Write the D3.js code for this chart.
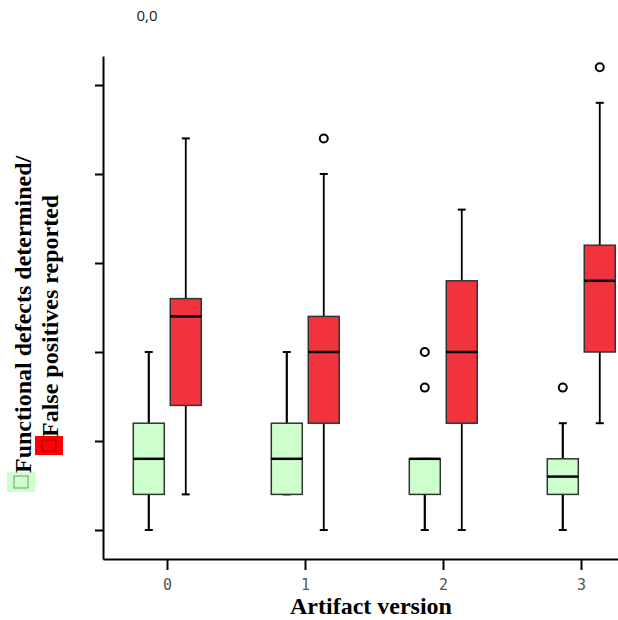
<!DOCTYPE html>
<html>
<head>
<meta charset="utf-8">
<script src="https://cdn.jsdelivr.net/npm/d3@7"></script>
<style>
  body { margin: 0; background: #fff; }
</style>
</head>
<body>
<div id="chart"></div>
<script>
// data (y units: one tick = 2.5)
const versions = [0, 1, 2, 3];
const yTicks = [0, 2.5, 5, 7.5, 10, 12.5];

const funcMin = [0, 1, 0, 0];
const funcQ1 = [1, 1, 1, 1];
const funcMedian = [2, 2, 2, 1.5];
const funcQ3 = [3, 3, 2, 2];
const funcMax = [5, 5, 2, 3];
const funcOutliers = [[], [], [4, 5], [4]];

const fpMin = [1, 0, 0, 3];
const fpQ1 = [3.5, 3, 3, 5];
const fpMedian = [6, 5, 5, 7];
const fpQ3 = [6.5, 6, 7, 8];
const fpMax = [11, 10, 9, 12];
const fpOutliers = [[], [11], [], [13]];

const width = 618, height = 620;

const svg = d3.select("#chart").append("svg")
    .attr("width", width)
    .attr("height", height);

const x = d3.scaleLinear().domain([-0.4638, 3.5362]).range([103, 655]);
const y = d3.scaleLinear().domain([-0.8146, 13.315]).range([559, 56]);

// build series
const series = [
    {name: "func", offset: -0.132, fill: "#ccffcc", stroke: "#333", min: funcMin, q1: funcQ1, med: funcMedian, q3: funcQ3, max: funcMax, out: funcOutliers, whisk: 2.2},
    {name: "fp", offset: 0.136, fill: "#f0333c", stroke: "#333", min: fpMin, q1: fpQ1, med: fpMedian, q3: fpQ3, max: fpMax, out: fpOutliers, whisk: 1.8}
];
const boxW = 31;
const capW = 8;

series.forEach(s => {
    const g = svg.append("g").attr("class", "series-" + s.name);
    versions.forEach((v, i) => {
        const cx = x(v + s.offset);
        // whiskers
        g.append("line")
            .attr("x1", cx).attr("x2", cx)
            .attr("y1", y(s.min[i])).attr("y2", y(s.q1[i]))
            .attr("stroke", "#000").attr("stroke-width", s.whisk);
        g.append("line")
            .attr("x1", cx).attr("x2", cx)
            .attr("y1", y(s.q3[i])).attr("y2", y(s.max[i]))
            .attr("stroke", "#000").attr("stroke-width", s.whisk);
        // caps
        [s.min[i], s.max[i]].forEach(val => {
            g.append("line")
                .attr("x1", cx - capW / 2).attr("x2", cx + capW / 2)
                .attr("y1", y(val)).attr("y2", y(val))
                .attr("stroke", "#000").attr("stroke-width", 2);
        });
        // box
        g.append("rect")
            .attr("x", cx - boxW / 2)
            .attr("y", y(s.q3[i]))
            .attr("width", boxW)
            .attr("height", y(s.q1[i]) - y(s.q3[i]))
            .attr("fill", s.fill)
            .attr("stroke", s.stroke)
            .attr("stroke-width", 1.5);
        // median
        g.append("line")
            .attr("x1", cx - boxW / 2).attr("x2", cx + boxW / 2)
            .attr("y1", y(s.med[i])).attr("y2", y(s.med[i]))
            .attr("stroke", "#000").attr("stroke-width", 2.5);
        // outliers
        g.selectAll(null)
            .data(s.out[i])
            .enter()
            .append("circle")
            .attr("cx", cx)
            .attr("cy", d => y(d))
            .attr("r", 4)
            .attr("fill", "#fff")
            .attr("stroke", "#000")
            .attr("stroke-width", 2);
    });
});

// axes
const yAxis = svg.append("g")
    .attr("transform", "translate(103,0)")
    .call(d3.axisLeft(y).tickValues(yTicks).tickSize(8).tickSizeOuter(0).tickFormat(""));
yAxis.select(".domain").attr("stroke", "#000").attr("stroke-width", 2);
yAxis.selectAll(".tick line").attr("stroke", "#000").attr("stroke-width", 2);

const xAxis = svg.append("g")
    .attr("transform", "translate(0,559)")
    .call(d3.axisBottom(x).tickValues(versions).tickSize(11).tickSizeOuter(0).tickPadding(9).tickFormat(d3.format("d")));
xAxis.select(".domain").attr("stroke", "#000").attr("stroke-width", 2);
xAxis.selectAll(".tick line").attr("stroke", "#000").attr("stroke-width", 2);
xAxis.selectAll(".tick text")
    .attr("font-family", "DejaVu Sans Mono, monospace")
    .attr("font-size", 15)
    .attr("fill", "#555");

// x title
svg.append("text")
    .attr("x", 371)
    .attr("y", 614)
    .attr("text-anchor", "middle")
    .attr("font-family", "Liberation Serif, Times New Roman, serif")
    .attr("font-weight", "bold")
    .attr("font-size", 24)
    .text("Artifact version");

// top label
svg.append("text")
    .attr("x", 147)
    .attr("y", 21)
    .attr("text-anchor", "middle")
    .attr("font-family", "Open Sans, sans-serif")
    .attr("font-size", 15)
    .attr("fill", "#222")
    .text("0,0");

// y title with legend swatches
const yTitle = svg.append("g");
yTitle.append("rect").attr("x", 7).attr("y", 472).attr("width", 28).attr("height", 20).attr("fill", "#ccffcc");
yTitle.append("rect").attr("x", 14).attr("y", 476).attr("width", 14).attr("height", 12)
    .attr("fill", "none").attr("stroke", "#888").attr("stroke-width", 1);
yTitle.append("rect").attr("x", 35).attr("y", 436).attr("width", 28).attr("height", 19).attr("fill", "#ff0000");
yTitle.append("rect").attr("x", 42).attr("y", 440).attr("width", 14).attr("height", 11)
    .attr("fill", "none").attr("stroke", "#900").attr("stroke-width", 1);

yTitle.append("text")
    .attr("transform", "translate(31,473) rotate(-90)")
    .attr("font-family", "Liberation Serif, Times New Roman, serif")
    .attr("font-weight", "bold")
    .attr("font-size", 24)
    .text("Functional defects determined/");
yTitle.append("text")
    .attr("transform", "translate(58,437) rotate(-90)")
    .attr("font-family", "Liberation Serif, Times New Roman, serif")
    .attr("font-weight", "bold")
    .attr("font-size", 24)
    .text("False positives reported");
</script>
</body>
</html>
